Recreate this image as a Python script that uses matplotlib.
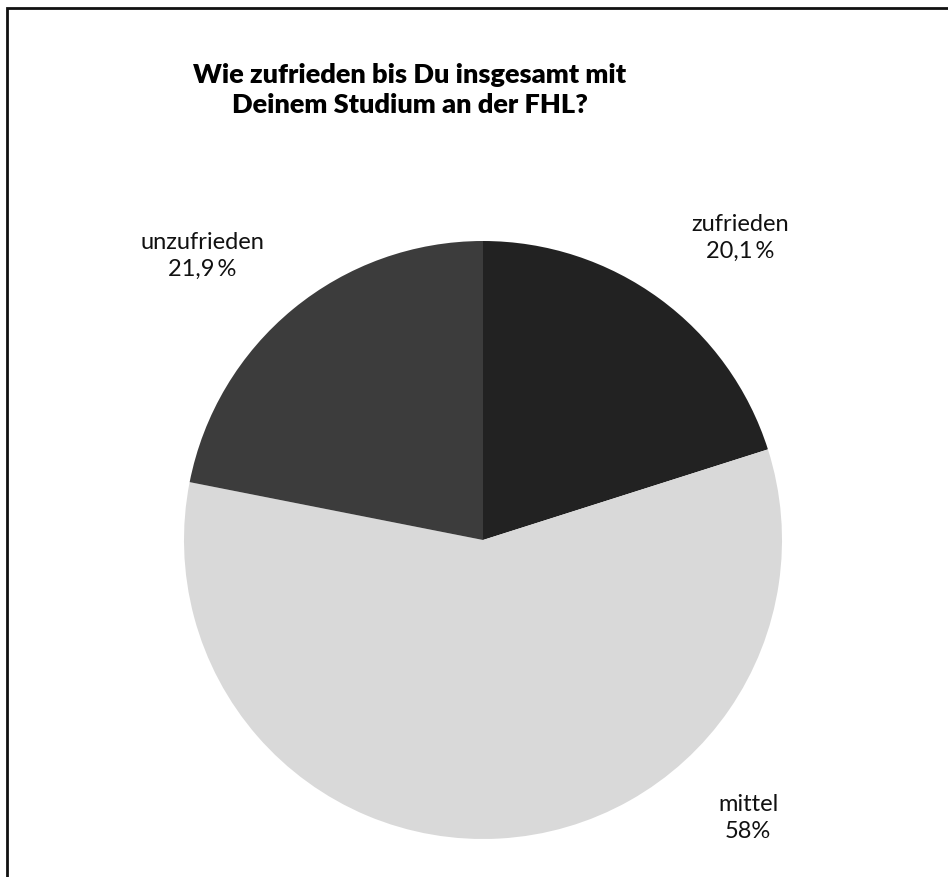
import matplotlib
matplotlib.use("Agg")
import matplotlib.pyplot as plt
from matplotlib.patches import Rectangle

categories = ["zufrieden", "mittel", "unzufrieden"]
values = [20.1, 58.0, 21.9]
value_labels = ["20,1\u2009%", "58%", "21,9\u2009%"]
colors = ["#222222", "#d9d9d9", "#3c3c3c"]
title = "Wie zufrieden bis Du insgesamt mit\nDeinem Studium an der FHL?"

W, H = 948, 878
fig = plt.figure(figsize=(W / 100, H / 100), dpi=100)

cx, cy, r = 483, 541, 299
ax = fig.add_axes([(cx - r) / W, (H - cy - r) / H, 2 * r / W, 2 * r / H])
ax.pie(values, colors=colors, startangle=90, counterclock=False, radius=1,
       wedgeprops=dict(linewidth=0))
ax.set_xlim(-1, 1)
ax.set_ylim(-1, 1)
ax.set_aspect("equal")
ax.axis("off")

# frame (left and top edges visible)
fig.add_artist(Rectangle((6.5 / W, -0.1), 1.2, 1.1 - 8.5 / H,
                         transform=fig.transFigure, fill=False,
                         edgecolor="#111111", linewidth=2))

fig.text(410 / W, 1 - 90 / H, title, ha="center", va="center",
         fontsize=19.5, fontweight="heavy", family=["Lato", "DejaVu Sans"],
         linespacing=1.3)

label_pos = {
    "zufrieden": (740, 238),
    "mittel": (748, 818),
    "unzufrieden": (202, 256),
}
for cat, vl in zip(categories, value_labels):
    x, y = label_pos[cat]
    fig.text(x / W, 1 - y / H, f"{cat}\n{vl}", ha="center", va="center",
             fontsize=17, family=["Lato", "DejaVu Sans"], linespacing=1.35,
             color="#111111")

fig.savefig("out.png", dpi=100)
